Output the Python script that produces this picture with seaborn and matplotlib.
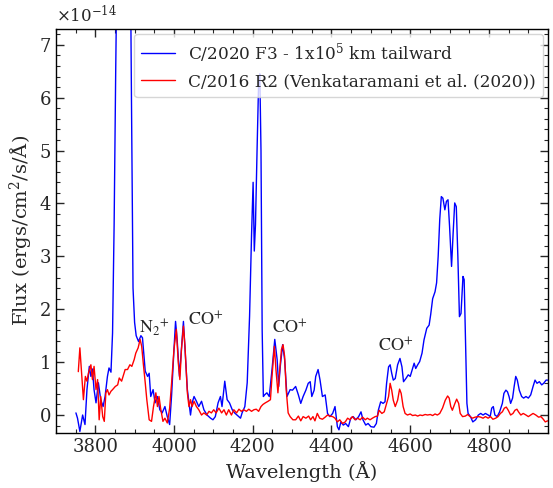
import numpy as np
import pandas as pd
import matplotlib
matplotlib.use("Agg")
import matplotlib.pyplot as plt
import seaborn as sns
from matplotlib.ticker import MultipleLocator, FixedLocator, FuncFormatter

# ---- data (flux in units of 1e-14 ergs/cm^2/s/A) ----
blue_wl = [3751, 3755, 3761, 3768, 3774, 3779, 3785, 3789, 3793, 3797, 3802, 3808, 3814, 3820,
           3825, 3831, 3835, 3840, 3844, 3848, 3852, 3856, 3862, 3870, 3878, 3884, 3888, 3892,
           3896, 3900, 3904, 3910, 3916, 3920, 3923, 3927, 3933, 3937, 3941, 3947, 3952, 3958,
           3964, 3970, 3977, 3983, 3989, 3994, 4000, 4004, 4008, 4014, 4019, 4024, 4028, 4034,
           4042, 4046, 4051, 4057, 4063, 4070, 4076, 4084, 4093, 4099, 4105, 4112, 4118, 4122,
           4129, 4135, 4141, 4148, 4154, 4160, 4169, 4173, 4180, 4186, 4192, 4197, 4201, 4204,
           4207, 4211, 4215, 4218, 4221, 4224, 4227, 4230, 4236, 4242, 4249, 4256, 4262, 4266, 4270,
           4276, 4281, 4287, 4295, 4301, 4309, 4316, 4322, 4328, 4335, 4341, 4346, 4350, 4356,
           4360, 4366, 4371, 4377, 4384, 4390, 4396, 4403, 4409, 4415, 4419, 4424, 4430, 4436,
           4443, 4449, 4455, 4462, 4469, 4475, 4480, 4487, 4493, 4500, 4508, 4514, 4519, 4525,
           4531, 4536, 4540, 4545, 4549, 4553, 4557, 4562, 4568, 4574, 4579, 4583, 4589, 4595,
           4600, 4606, 4610, 4614, 4619, 4624, 4630, 4635, 4642, 4648, 4652, 4657, 4663, 4667,
           4671, 4675, 4679, 4683, 4688, 4692, 4696, 4700, 4705, 4709, 4713, 4717, 4721, 4725,
           4729, 4734, 4737, 4740, 4744, 4747, 4753, 4759, 4766, 4773, 4779, 4785, 4791, 4798,
           4803, 4807, 4811, 4815, 4821, 4827, 4834, 4838, 4843, 4847, 4851, 4855, 4860, 4864,
           4868, 4872, 4877, 4883, 4888, 4894, 4900, 4906, 4912, 4917, 4922, 4928, 4934, 4939,
           4945, 4949]
blue_flux = [0.04, -0.06, -0.31, 0.0, -0.18, 0.48, 0.92, 0.73, 0.87, 0.48, 0.23, 0.61, 0.29, 0.16,
             0.35, 0.73, 0.89, 0.81, 1.55, 3.6, 6.5, 9.0, 11.0, 12.5, 13.5, 13.0, 10.0, 6.0,
             2.4, 1.75, 1.5, 1.39, 1.5, 1.46, 1.2, 0.83, 0.73, 0.79, 0.35, 0.48, 0.23, 0.35,
             0.10, 0.04, 0.16, -0.03, -0.18, 0.38, 1.24, 1.77, 1.43, 0.73, 1.24, 1.77, 1.24, 0.48,
             0.0, 0.23, 0.35, 0.26, 0.16, 0.26, 0.10, 0.0, -0.06, -0.09, -0.03, 0.23, 0.35, 0.16,
             0.64, 0.29, 0.23, 0.10, 0.04, 0.0, -0.06, 0.04, 0.16, 0.61, 1.87, 3.4, 4.4, 3.1,
             3.6, 5.0, 6.3, 6.45, 5.0, 1.6, 0.35, 0.38, 0.42, 0.35, 0.86, 1.43, 1.05, 0.54, 0.92,
             1.33, 1.05, 0.35, 0.48, 0.47, 0.54, 0.38, 0.22, 0.35, 0.47, 0.60, 0.63, 0.35, 0.47,
             0.73, 0.86, 0.66, 0.35, 0.38, 0.03, -0.03, 0.03, 0.16, -0.22, -0.28, -0.13, -0.19, -0.16,
             -0.22, -0.06, -0.03, -0.09, -0.03, 0.06, -0.09, -0.19, -0.16, -0.22, -0.23, -0.16, 0.09, 0.25,
             0.22, 0.25, 0.60, 0.91, 0.95, 0.79, 0.66, 0.69, 0.95, 1.07, 0.91, 0.63, 0.69, 0.76,
             0.73, 0.88, 0.98, 0.88, 0.95, 1.01, 1.17, 1.42, 1.64, 1.70, 1.90, 2.20, 2.33, 2.50,
             3.0, 3.7, 4.13, 4.10, 3.88, 4.04, 4.07, 3.56, 2.81, 3.44, 4.01, 3.94, 3.0, 1.86,
             1.92, 2.62, 2.56, 1.55, 0.22, 0.03, -0.03, -0.13, -0.09, 0.0, 0.03, 0.0, 0.03, 0.0,
             -0.03, 0.13, 0.16, 0.0, -0.03, 0.06, 0.22, 0.41, 0.47, 0.44, 0.35, 0.22, 0.32, 0.54,
             0.73, 0.66, 0.47, 0.35, 0.32, 0.35, 0.32, 0.38, 0.54, 0.66, 0.60, 0.63, 0.57, 0.60,
             0.66, 0.66]

red_wl = [3757, 3761, 3766, 3770, 3775, 3779, 3783, 3789, 3793, 3797, 3802, 3806, 3810, 3814,
          3819, 3823, 3827, 3831, 3835, 3840, 3844, 3851, 3857, 3861, 3867, 3872, 3876, 3882,
          3888, 3893, 3899, 3903, 3909, 3914, 3918, 3922, 3927, 3931, 3937, 3943, 3948, 3954,
          3958, 3962, 3966, 3972, 3977, 3983, 3989, 3994, 4000, 4006, 4011, 4015, 4019, 4024,
          4028, 4034, 4038, 4042, 4046, 4051, 4057, 4063, 4070, 4076, 4083, 4089, 4095, 4101,
          4107, 4114, 4121, 4127, 4133, 4139, 4146, 4152, 4159, 4165, 4171, 4177, 4184, 4190,
          4197, 4203, 4209, 4215, 4221, 4226, 4232, 4239, 4245, 4249, 4255, 4259, 4264, 4268,
          4273, 4277, 4281, 4285, 4290, 4295, 4302, 4309, 4316, 4322, 4328, 4335, 4342, 4347,
          4353, 4358, 4364, 4370, 4377, 4384, 4390, 4396, 4403, 4409, 4415, 4421, 4428, 4435,
          4441, 4447, 4453, 4460, 4466, 4473, 4479, 4486, 4491, 4498, 4504, 4511, 4517, 4521,
          4528, 4534, 4540, 4545, 4549, 4553, 4557, 4562, 4568, 4573, 4577, 4582, 4587, 4593,
          4600, 4606, 4613, 4619, 4625, 4631, 4638, 4644, 4651, 4657, 4663, 4669, 4675, 4682,
          4689, 4695, 4699, 4703, 4707, 4713, 4718, 4723, 4727, 4733, 4740, 4746, 4752, 4758,
          4765, 4773, 4779, 4785, 4791, 4798, 4804, 4810, 4817, 4823, 4829, 4834, 4839, 4844,
          4849, 4855, 4861, 4866, 4871, 4875, 4881, 4887, 4894, 4900, 4906, 4912, 4919, 4926,
          4932, 4938, 4943, 4949]
red_flux = [0.82, 1.27, 0.73, 0.29, 0.73, 0.64, 0.80, 0.95, 0.67, 0.92, 0.48, 0.67, -0.09, 0.35,
            -0.03, -0.12, 0.42, 0.48, 0.38, 0.45, 0.48, 0.54, 0.57, 0.70, 0.64, 0.76, 0.86, 0.86,
            0.95, 0.92, 1.05, 1.17, 1.27, 1.43, 1.30, 0.98, 0.61, 0.29, -0.09, -0.12, 0.16, 0.42,
            0.16, 0.35, 0.13, -0.12, -0.06, -0.15, 0.13, 0.61, 1.24, 1.62, 0.98, 0.67, 1.24, 1.68,
            1.30, 0.42, 0.16, 0.29, 0.16, 0.26, 0.16, 0.10, 0.0, 0.04, 0.0, 0.07, 0.04, 0.10,
            0.04, 0.13, 0.04, 0.10, 0.0, 0.10, 0.0, 0.10, 0.04, 0.11, 0.07, 0.10, 0.07, 0.11,
            0.07, 0.10, 0.11, 0.07, 0.16, 0.20, 0.23, 0.26, 0.29, 0.73, 1.30, 0.86, 0.42, 0.80,
            1.24, 1.33, 1.11, 0.48, 0.04, -0.03, -0.09, -0.09, -0.02, -0.11, -0.03, -0.06, -0.02, -0.09,
            -0.03, -0.11, 0.03, -0.06, -0.08, -0.04, 0.0, -0.02, -0.03, -0.06, -0.13, -0.09, -0.16, -0.13,
            -0.06, -0.09, -0.03, -0.09, -0.06, -0.09, -0.04, -0.09, -0.06, -0.09, -0.06, -0.03, -0.02, 0.09,
            0.03, 0.06, 0.22, 0.35, 0.60, 0.47, 0.28, 0.16, 0.28, 0.49, 0.41, 0.16, 0.03, 0.0,
            0.02, -0.01, 0.0, -0.02, 0.0, -0.01, 0.01, 0.0, 0.01, -0.01, 0.02, 0.0, 0.03, 0.13,
            0.28, 0.36, 0.32, 0.16, 0.09, 0.21, 0.30, 0.22, 0.03, -0.03, -0.02, 0.01, -0.03, -0.06,
            -0.04, -0.03, -0.04, -0.06, -0.03, -0.06, -0.03, -0.08, -0.06, -0.03, 0.03, 0.06, 0.13, 0.15,
            0.09, 0.0, 0.03, 0.09, 0.11, 0.06, 0.0, 0.03, 0.0, -0.03, 0.0, 0.03, 0.0, -0.04,
            -0.03, -0.08, -0.13, -0.11]

blue_label = "C/2020 F3 - 1x10$^5$ km tailward"
red_label = "C/2016 R2 (Venkataramani et al. (2020))"
offset_label = r"$\times10^{-14}$"
x_ticks = [3800, 4000, 4200, 4400, 4600, 4800]
y_ticks = [0, 1, 2, 3, 4, 5, 6, 7]

ann_texts = [r"N$_2$$^{+}$", r"CO$^{+}$", r"CO$^{+}$", r"CO$^{+}$"]
ann_x = [3910, 4035, 4248, 4517]
ann_y = [1.45, 1.62, 1.47, 1.12]

scale = 1e-14
df_b = pd.DataFrame({"wl": blue_wl, "flux": np.array(blue_flux) * scale})
df_r = pd.DataFrame({"wl": red_wl, "flux": np.array(red_flux) * scale})

sns.set_style("ticks")
plt.rcParams["font.family"] = ["DejaVu Serif"]
plt.rcParams["mathtext.fontset"] = "dejavuserif"

fig = plt.figure(figsize=(5.53, 4.88), dpi=100)
ax = fig.add_axes([0.101, 0.1127, 0.890, 0.828])

sns.lineplot(data=df_b, x="wl", y="flux", ax=ax, color="blue", lw=1.0,
             label=blue_label, estimator=None, sort=False)
sns.lineplot(data=df_r, x="wl", y="flux", ax=ax, color="red", lw=1.0,
             label=red_label, estimator=None, sort=False)

for t, x, y in zip(ann_texts, ann_x, ann_y):
    ax.text(x, y * scale, t, fontsize=13, family="STIXGeneral",
            math_fontfamily="stix", ha="left", va="bottom")

ax.set_xlim(3700, 4950)
ax.set_ylim(-0.34e-14, 7.3e-14)
ax.xaxis.set_major_locator(FixedLocator(x_ticks))
ax.xaxis.set_minor_locator(MultipleLocator(50))
ax.yaxis.set_major_locator(FixedLocator([v * scale for v in y_ticks]))
ax.yaxis.set_minor_locator(MultipleLocator(0.2e-14))
ax.yaxis.set_major_formatter(FuncFormatter(lambda v, p: f"{v / scale:.0f}"))
ax.text(0.0, 1.008, offset_label, transform=ax.transAxes, fontsize=12,
        ha="left", va="bottom")
ax.tick_params(which="both", direction="in", top=True, right=True, labelsize=13)
ax.tick_params(which="major", length=6, width=1)
ax.tick_params(which="minor", length=3, width=0.8)
for s in ax.spines.values():
    s.set_linewidth(1.0)
    s.set_color("black")

ax.set_xlabel("Wavelength (Å)", fontsize=14)
ax.set_ylabel("Flux (ergs/cm$^2$/s/Å)", fontsize=14)
ax.legend(loc="upper right", fontsize=12.2, handlelength=2.0, borderaxespad=0.3)

fig.savefig("out.png", dpi=100)
